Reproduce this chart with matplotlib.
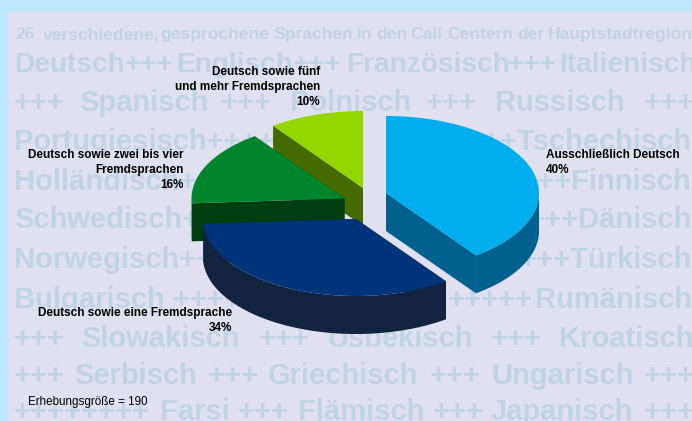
"""Exploded 3D-look pie of languages spoken in call centres, on a watermark background."""
import numpy as np
import matplotlib
matplotlib.use("Agg")
import matplotlib.pyplot as plt

W, H = 692, 421

CATEGORIES = [
    "Ausschließlich Deutsch",
    "Deutsch sowie eine Fremdsprache",
    "Deutsch sowie zwei bis vier\nFremdsprachen",
    "Deutsch sowie fünf\nund mehr Fremdsprachen",
]
SHARES = [40, 34, 16, 10]
NOTE = "Erhebungsgröße = 190"

TOP_COLOURS = ["#00ADEE", "#00347A", "#00852D", "#94D600"]
WALL_COLOURS = ["#00618F", "#12233F", "#003D0F", "#456B00"]
CENTRES = [(386, 193), (356, 219), (344.5, 198.5), (363, 188)]
RX, RY, DEPTH = 153, 77, 38

# x, y of the first line's top, horizontal alignment
LABEL_POS = [(546, 149, "left"), (232, 307, "right"), (184, 149, "right"), (320, 66, "right")]

TITLE_WORDS = ["26", "verschiedene,", "gesprochene", "Sprachen", "in", "den", "Call", "Centern",
               "der", "Hauptstadtregion"]
TITLE_X = [15, 43, 160, 273, 357, 376, 410, 447, 517, 548]

# watermark rows: pieces of text with the x where each one starts
ROWS = [
    ["Deutsch", "+++", "Englisch", "+++", "Französisch", "+++", "Italienisch"],
    ["+++", "Spanisch", "+++", "Polnisch", "+++", "Russisch", "+++"],
    ["Portugiesisch++++"],
    ["Holländisch+++"],
    ["Schwedisch+++"],
    ["Norwegisch+++"],
    ["Bulgarisch ++++", "+++++"],
    ["+++", "Slowakisch", "+++", "Usbekisch", "+++", "Kroatisch"],
    ["+++", "Serbisch", "+++", "Griechisch", "+++", "Ungarisch", "+++"],
    ["++++++++", "Farsi", "+++", "Flämisch", "+++", "Japanisch", "+++"],
]
ROW_X = [
    [14, 125, 176, 293, 346, 508, 559],
    [14, 79, 221, 290, 426, 495, 644],
    [14],
    [14],
    [14],
    [14],
    [14, 448],
    [14, 81, 259, 327, 491, 559],
    [14, 74, 208, 268, 430, 491, 644],
    [14, 160, 238, 298, 433, 491, 644],
]
ROW_BASE = [72, 111, 150, 190, 228, 268, 308, 347, 384, 420]
ROW_SIZE = [20.2, 21, 21, 21, 21, 21, 21, 21, 21, 21]
# these end flush with the right edge
RIGHT_ROWS = {2: "+++Tschechisch", 3: "+++Finnisch", 4: "+++Dänisch", 5: "+++Türkisch", 6: "Rumänisch"}

plt.rcParams["font.family"] = ["Liberation Sans", "DejaVu Sans"]


def rim(cx, cy, a0, a1, n=120):
    """Points on the ellipse, angles in degrees clockwise from twelve o'clock."""
    t = np.radians(np.linspace(a0, a1, n))
    return cx + RX * np.sin(t), cy - RY * np.cos(t)


fig = plt.figure(figsize=(W / 100, H / 100), dpi=100, facecolor="#BEE6FA")
ax = fig.add_axes([0, 0, 1, 1])
ax.set_xlim(0, W)
ax.set_ylim(H, 0)
ax.axis("off")
ax.fill_between([8, W], 12, H, color="#E0E0F0", lw=0, zorder=0)

wm = dict(color="#BFD5E5", fontweight="bold", va="baseline", zorder=1)
for x, word in zip(TITLE_X, TITLE_WORDS):
    ax.text(x, 39, word, fontsize=12.6, **wm)
for i, (pieces, xs, y, size) in enumerate(zip(ROWS, ROW_X, ROW_BASE, ROW_SIZE)):
    for x, piece in zip(xs, pieces):
        ax.text(x, y, piece, fontsize=size, **wm)
    if i in RIGHT_ROWS:
        ax.text(W, y, RIGHT_ROWS[i], fontsize=size, ha="right", **wm)

edges = np.cumsum([0] + SHARES) * 3.6
# back slices first so the nearer ones paint over them
for i in [3, 2, 1, 0]:
    a0, a1 = edges[i], edges[i + 1]
    cx, cy = CENTRES[i]
    wall = WALL_COLOURS[i]
    for a in (a0, a1):
        x, y = rim(cx, cy, a, a, n=1)
        ax.fill([cx, x[0], x[0], cx], [cy, y[0], y[0] + DEPTH, cy + DEPTH], color=wall, lw=0, zorder=2)
    lo, hi = max(a0, 90), min(a1, 270)
    if lo < hi:
        x, y = rim(cx, cy, lo, hi)
        ax.fill(np.r_[x, x[::-1]], np.r_[y, y[::-1] + DEPTH], color=wall, lw=0, zorder=2)
    x, y = rim(cx, cy, a0, a1)
    ax.fill(np.r_[cx, x], np.r_[cy, y], color=TOP_COLOURS[i], lw=0, zorder=2)

for name, share, (x, y, ha) in zip(CATEGORIES, SHARES, LABEL_POS):
    ax.text(x, y, f"{name}\n{share}%", ha=ha, va="top", fontsize=8.5, fontweight="bold",
            color="black", linespacing=1.35, zorder=3)

ax.text(28, 402, NOTE, fontsize=8.4, color="black", va="center", zorder=3)

fig.savefig("out.png", dpi=100, facecolor=fig.get_facecolor())
